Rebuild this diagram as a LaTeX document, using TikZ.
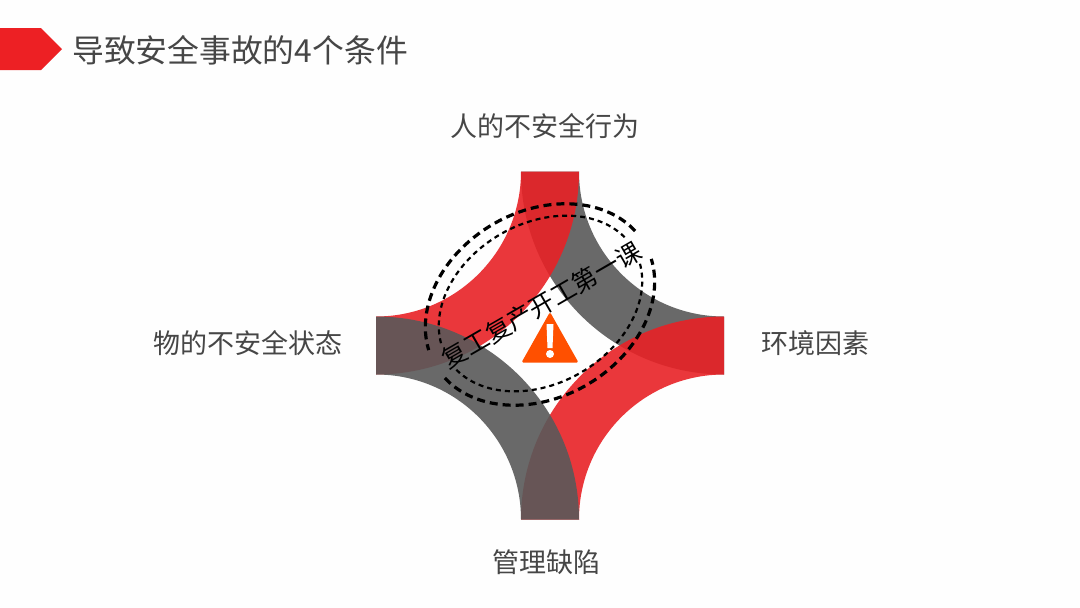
\documentclass[tikz,border=0pt]{standalone}
\usepackage{fontspec}
\usepackage{xcolor}
\setmainfont{Noto Sans CJK SC}
\definecolor{figR}{RGB}{232,34,38}
\definecolor{figK}{RGB}{89,89,89}
\definecolor{figT}{RGB}{70,70,70}
\definecolor{figO}{RGB}{255,80,0}
\definecolor{figA}{RGB}{237,32,36}
\definecolor{figW}{RGB}{254,254,254}
\tikzset{
  lbl/.style={font=\fontsize{27}{30}\selectfont, text=figT, inner sep=0pt},
  band/.style={opacity=0.9},
  ringA/.style={line width=3.2pt, dash pattern=on 8pt off 5pt},
  ringB/.style={line width=2.2pt, dash pattern=on 5pt off 4pt}
}
\begin{document}
\begin{tikzpicture}[x=1pt, y=-1pt]
\useasboundingbox (0,0) rectangle (1080,608);
\fill[figW] (0,0) rectangle (1080,608);
% title
\fill[figA] (0,28) -- (41,28) -- (62,49) -- (41,70) -- (0,70) -- cycle;
\node[lbl, font=\fontsize{31.8}{34}\selectfont, anchor=west] (title) at (72,50) {导致安全事故的4个条件};
% the four bands
\fill[band, figK] (579,171.5) arc[start angle=180, end angle=270, radius=145pt] -- (724,374.5) arc[start angle=270, end angle=180, radius=203pt] -- cycle;
\fill[band, figR] (521,171.5) arc[start angle=0, end angle=-90, radius=145pt] -- (376,374.5) arc[start angle=-90, end angle=0, radius=203pt] -- cycle;
\fill[band, figR] (724,374.5) arc[start angle=90, end angle=180, radius=145pt] -- (521,519.5) arc[start angle=180, end angle=90, radius=203pt] -- cycle;
\fill[band, figK] (376,374.5) arc[start angle=90, end angle=0, radius=145pt] -- (579,519.5) arc[start angle=0, end angle=90, radius=203pt] -- cycle;
% warning sign
\fill[figO, rounded corners=1.5pt] (550,312) -- (578.5,362.5) -- (521.5,362.5) -- cycle;
\fill[figW] (546.5,324) -- (553.5,324) -- (552.5,348) -- (547.5,348) -- cycle;
\fill[figW] (550,354) circle (4);
% stamp
\foreach \a/\b in {10/170,190/350}
  \draw[ringA, shift={(540,304.5)}, rotate=30] (\a:121pt and 93pt) arc[start angle=\a, end angle=\b, x radius=121pt, y radius=93pt];
\foreach \a/\b in {11/169,191/349}
  \draw[ringB, shift={(540.5,303.5)}, rotate=30] (\a:108pt and 80pt) arc[start angle=\a, end angle=\b, x radius=108pt, y radius=80pt];
\node[font=\fontsize{25}{27}\selectfont, inner sep=0pt, rotate=30] (stamp) at (541.5,305) {复工复产开工第一课};
% labels
\node[lbl] (top) at (544.5,126) {人的不安全行为};
\node[lbl] (left) at (247.5,343) {物的不安全状态};
\node[lbl] (right) at (815,343) {环境因素};
\node[lbl] (bottom) at (546,562) {管理缺陷};
\end{tikzpicture}
\end{document}
